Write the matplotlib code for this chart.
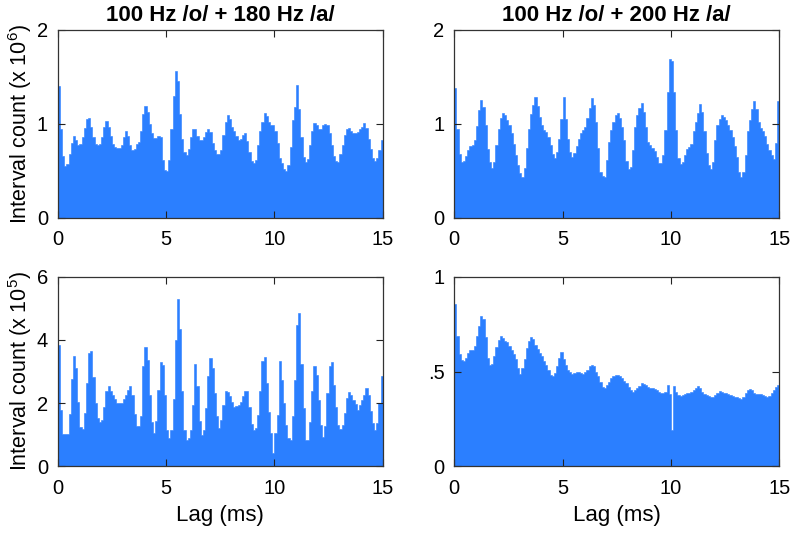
import numpy as np
import matplotlib
matplotlib.use("Agg")
import matplotlib.pyplot as plt

plt.rcParams['font.family'] = ['Liberation Sans', 'DejaVu Sans']
plt.rcParams['mathtext.default'] = 'regular'

# histogram bins: 0.1 ms wide, 0 - 15 ms
bin_width = 0.1
lag_edges = np.arange(151) * bin_width

titles = ["100 Hz /o/ + 180 Hz /a/", "100 Hz /o/ + 200 Hz /a/"]

# top row, interval counts (x 1e6)
counts_180_top = [
    1.40, 0.94, 0.66, 0.55, 0.57, 0.68, 0.80, 0.87, 0.83, 0.77,
    0.79, 0.86, 0.96, 1.05, 1.06, 0.97, 0.86, 0.79, 0.78, 0.79,
    0.86, 0.97, 1.03, 0.97, 0.87, 0.79, 0.75, 0.74, 0.74, 0.77,
    0.86, 0.92, 0.87, 0.77, 0.72, 0.73, 0.79, 0.81, 0.92, 1.10,
    1.19, 1.13, 1.00, 0.90, 0.85, 0.85, 0.87, 0.86, 0.62, 0.51,
    0.50, 0.62, 0.94, 1.30, 1.56, 1.45, 1.10, 0.84, 0.70, 0.67,
    0.73, 0.86, 0.95, 0.94, 0.87, 0.83, 0.83, 0.86, 0.91, 0.94,
    0.91, 0.80, 0.72, 0.68, 0.68, 0.72, 0.88, 1.02, 1.09, 1.05,
    0.97, 0.92, 0.87, 0.83, 0.84, 0.88, 0.90, 0.82, 0.70, 0.61,
    0.58, 0.62, 0.78, 0.92, 1.02, 1.12, 1.08, 1.02, 0.99, 0.99,
    0.92, 0.80, 0.64, 0.58, 0.52, 0.50, 0.56, 0.75, 1.04, 1.18,
    1.41, 1.16, 0.86, 0.65, 0.60, 0.63, 0.77, 0.92, 1.01, 0.99,
    0.94, 0.95, 0.99, 1.00, 0.99, 0.90, 0.78, 0.66, 0.61, 0.60,
    0.68, 0.78, 0.88, 0.94, 0.96, 0.92, 0.90, 0.90, 0.91, 0.95,
    0.97, 1.01, 0.96, 0.84, 0.73, 0.64, 0.61, 0.64, 0.72, 0.83,
]
counts_200_top = [
    1.38, 0.95, 0.68, 0.59, 0.61, 0.66, 0.72, 0.76, 0.77, 0.83,
    0.98, 1.15, 1.25, 1.18, 0.99, 0.73, 0.60, 0.53, 0.60, 0.78,
    0.94, 1.06, 1.12, 1.09, 1.04, 0.99, 0.90, 0.79, 0.67, 0.56,
    0.48, 0.44, 0.53, 0.74, 0.95, 1.10, 1.20, 1.28, 1.19, 1.07,
    0.99, 0.93, 0.91, 0.86, 0.77, 0.68, 0.64, 0.70, 0.84, 1.05,
    1.29, 1.05, 0.84, 0.70, 0.65, 0.69, 0.76, 0.84, 0.90, 0.93,
    0.97, 1.06, 1.17, 1.27, 1.20, 1.02, 0.74, 0.49, 0.45, 0.44,
    0.62, 0.81, 0.93, 1.02, 1.09, 1.11, 1.06, 0.97, 0.83, 0.61,
    0.52, 0.54, 0.72, 0.97, 1.09, 1.17, 1.22, 1.13, 0.97, 0.81,
    0.77, 0.74, 0.71, 0.65, 0.58, 0.58, 0.67, 0.93, 1.34, 1.69,
    1.67, 1.34, 0.93, 0.64, 0.57, 0.60, 0.67, 0.73, 0.75, 0.79,
    0.92, 1.02, 1.12, 1.21, 1.13, 0.92, 0.69, 0.56, 0.52, 0.60,
    0.83, 0.99, 1.05, 1.09, 1.07, 1.04, 0.99, 0.93, 0.86, 0.76,
    0.65, 0.49, 0.44, 0.49, 0.67, 0.92, 1.04, 1.16, 1.24, 1.16,
    1.02, 0.96, 0.92, 0.87, 0.79, 0.72, 0.67, 0.63, 0.80, 1.24,
]

# bottom row: left in x 1e5, right in x 1e6
counts_180_bottom = [
    3.84, 1.79, 1.03, 1.03, 1.03, 1.66, 2.76, 3.49, 3.11, 2.02,
    1.26, 1.18, 1.68, 2.65, 3.58, 3.65, 2.84, 2.00, 1.53, 1.39,
    1.47, 1.89, 2.37, 2.53, 2.37, 2.26, 2.13, 2.00, 2.00, 2.00,
    2.13, 2.26, 2.42, 2.55, 2.26, 1.66, 1.29, 1.29, 1.58, 3.18,
    3.79, 3.37, 2.26, 1.39, 1.07, 1.42, 2.42, 3.29, 3.21, 2.26,
    1.16, 0.89, 1.16, 2.13, 4.00, 5.28, 4.34, 2.37, 1.16, 0.84,
    0.90, 1.14, 1.95, 3.24, 2.53, 1.42, 1.00, 1.16, 1.84, 2.86,
    3.42, 3.11, 2.32, 1.58, 1.21, 1.47, 1.95, 2.37, 2.34, 2.21,
    2.05, 1.89, 1.92, 1.95, 2.05, 2.21, 2.39, 2.37, 1.89, 1.35,
    1.14, 1.21, 1.63, 2.37, 3.32, 3.47, 2.63, 1.71, 1.05, 0.42,
    1.05, 1.63, 3.32, 2.74, 2.00, 1.32, 0.89, 0.84, 1.58, 2.74,
    4.47, 4.86, 3.24, 1.84, 0.84, 0.84, 1.39, 2.37, 3.16, 2.89,
    2.11, 1.32, 0.93, 1.28, 2.32, 3.16, 3.29, 2.58, 1.89, 1.32,
    1.18, 1.32, 1.68, 2.16, 2.34, 2.26, 2.11, 1.98, 1.79, 1.95,
    2.11, 2.26, 2.47, 2.26, 1.74, 1.37, 1.16, 1.37, 2.00, 2.86,
]
counts_200_bottom = [
    0.854, 0.690, 0.594, 0.562, 0.553, 0.571, 0.600, 0.611, 0.611, 0.633,
    0.690, 0.739, 0.792, 0.775, 0.680, 0.571, 0.536, 0.541, 0.580, 0.629,
    0.668, 0.686, 0.677, 0.659, 0.654, 0.636, 0.615, 0.594, 0.566, 0.518,
    0.488, 0.518, 0.566, 0.624, 0.659, 0.682, 0.672, 0.642, 0.619, 0.597,
    0.580, 0.558, 0.536, 0.509, 0.482, 0.477, 0.491, 0.527, 0.571, 0.603,
    0.566, 0.536, 0.509, 0.495, 0.488, 0.491, 0.495, 0.495, 0.491, 0.488,
    0.495, 0.509, 0.527, 0.536, 0.530, 0.500, 0.474, 0.447, 0.421, 0.415,
    0.429, 0.447, 0.465, 0.477, 0.482, 0.482, 0.477, 0.465, 0.452, 0.438,
    0.421, 0.403, 0.394, 0.400, 0.412, 0.424, 0.442, 0.435, 0.429, 0.421,
    0.415, 0.412, 0.407, 0.400, 0.394, 0.389, 0.385, 0.394, 0.429, 0.380,
    0.190, 0.424, 0.394, 0.376, 0.371, 0.376, 0.382, 0.385, 0.389, 0.394,
    0.403, 0.412, 0.424, 0.412, 0.394, 0.382, 0.376, 0.371, 0.364, 0.368,
    0.376, 0.389, 0.398, 0.394, 0.389, 0.385, 0.380, 0.376, 0.371, 0.368,
    0.364, 0.359, 0.353, 0.364, 0.385, 0.403, 0.408, 0.400, 0.389, 0.382,
    0.380, 0.380, 0.376, 0.371, 0.368, 0.371, 0.385, 0.403, 0.421, 0.429,
]

bar_color = '#2b7fff'

fig = plt.figure(figsize=(7.93, 5.36), dpi=100)

# axes rectangles (figure fraction) for a 2x2 layout
rects = {
    'tl': [0.0728, 0.5933, 0.4098, 0.3513],
    'tr': [0.5729, 0.5933, 0.4098, 0.3513],
    'bl': [0.0728, 0.1300, 0.4098, 0.3537],
    'br': [0.5729, 0.1300, 0.4098, 0.3537],
}

panels = [
    ('tl', counts_180_top, 2, [0, 1, 2], ['0', '1', '2'], 'Interval count (x 10$^{6}$)'),
    ('tr', counts_200_top, 2, [0, 1, 2], ['0', '1', '2'], None),
    ('bl', counts_180_bottom, 6, [0, 2, 4, 6], ['0', '2', '4', '6'], 'Interval count (x 10$^{5}$)'),
    ('br', counts_200_bottom, 1, [0, 0.5, 1], ['0', '.5', '1'], None),
]

axes = {}
for key, counts, ymax, yticks, yticklabels, ylabel in panels:
    ax = fig.add_axes(rects[key])
    # step-filled histogram; matching edge hides seams between bins
    ax.fill_between(lag_edges, np.append(counts, counts[-1]), step='post',
                    facecolor=bar_color, edgecolor=bar_color, linewidth=0.4)
    ax.set_xlim(0, 15)
    ax.set_ylim(0, ymax)
    ax.set_xticks([0, 5, 10, 15])
    ax.set_yticks(yticks)
    ax.set_yticklabels(yticklabels)
    ax.tick_params(direction='in', top=True, right=True, length=5, width=0.8,
                   labelsize=14.5, colors='#222222', labelcolor='black')
    ax.tick_params(axis='x', pad=9)
    ax.tick_params(axis='y', pad=7)
    for sp in ax.spines.values():
        sp.set_linewidth(0.9)
        sp.set_color('#333333')
        sp.set_zorder(3)
    if ylabel:
        ax.set_ylabel(ylabel, fontsize=15.5, labelpad=2)
    axes[key] = ax

axes['tl'].set_title(titles[0], fontsize=16, fontweight='bold', pad=6)
axes['tr'].set_title(titles[1], fontsize=16, fontweight='bold', pad=6)
axes['bl'].set_xlabel('Lag (ms)', fontsize=16, labelpad=5)
axes['br'].set_xlabel('Lag (ms)', fontsize=16, labelpad=5)

fig.savefig('out.png', dpi=100)
